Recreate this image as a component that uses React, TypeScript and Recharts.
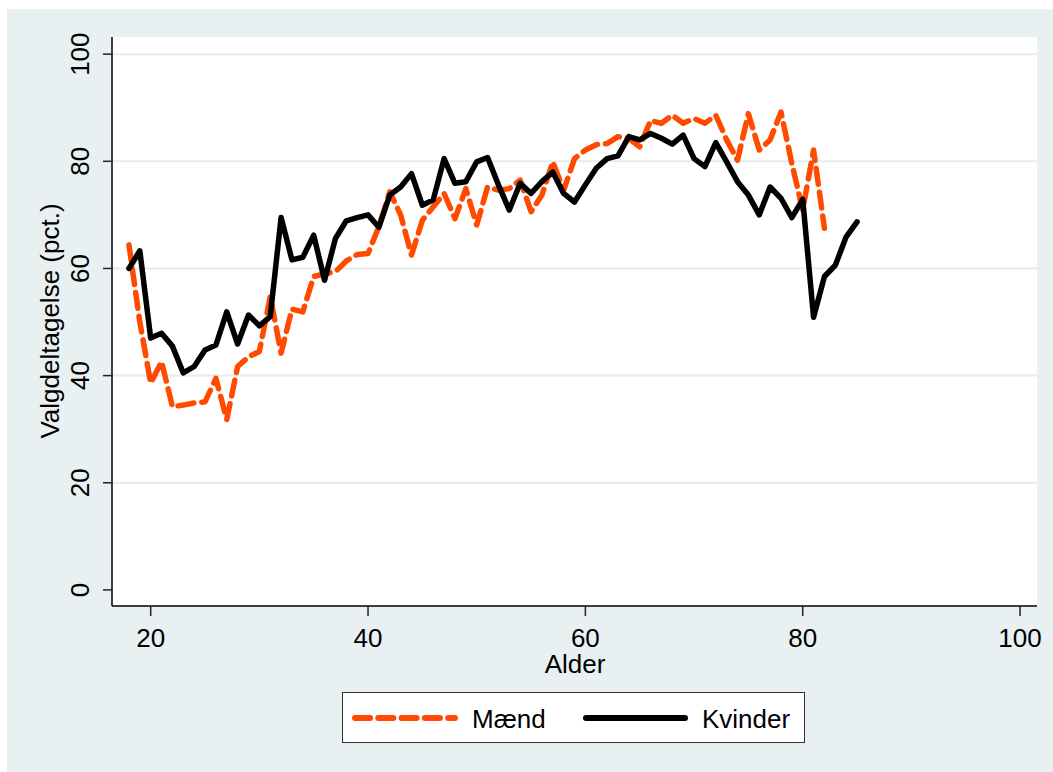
import { LineChart, Line, XAxis, YAxis, CartesianGrid } from 'recharts';

// Alder 18..85
const ages = [
  18, 19, 20, 21, 22, 23, 24, 25, 26, 27, 28, 29, 30, 31, 32, 33, 34, 35, 36, 37,
  38, 39, 40, 41, 42, 43, 44, 45, 46, 47, 48, 49, 50, 51, 52, 53, 54, 55, 56, 57,
  58, 59, 60, 61, 62, 63, 64, 65, 66, 67, 68, 69, 70, 71, 72, 73, 74, 75, 76, 77,
  78, 79, 80, 81, 82, 83, 84, 85,
];

// Mænd, 18..82
const maend = [
  64.4, 50, 38.6, 42.6, 34.2, 34.5, 34.9, 35.1, 39.5, 31.8, 41.7, 43.5, 44.5, 54.7, 44.2, 52.4, 51.9, 58.5, 59.0, 59.4,
  61.4, 62.6, 62.8, 67.8, 74.3, 70, 62.5, 69, 71.5, 74, 69.3, 74.9, 68.1, 75.2, 74.6, 74.9, 76.5, 70.6, 73.7, 79.9,
  74.6, 80.5, 82.1, 83.1, 83.3, 84.6, 84.3, 82.7, 87.6, 87.1, 88.6, 87.1, 88, 87.1, 88.6, 84, 80.2, 88.9, 82.1, 84,
  89.2, 79.6, 70.9, 82.1, 67.5,
];

// Kvinder, 18..85
const kvinder = [
  60, 63.3, 47, 47.9, 45.5, 40.5, 41.7, 44.8, 45.7, 51.9, 45.9, 51.3, 49.3, 51, 69.5, 61.6, 62.1, 66.2, 57.8, 65.6,
  68.9, 69.5, 70, 67.7, 73.7, 75.2, 77.7, 71.8, 72.8, 80.5, 75.9, 76.2, 79.9, 80.7, 75.6, 70.9, 75.9, 74, 76.2, 78,
  74, 72.4, 75.6, 78.7, 80.5, 81, 84.6, 84, 85.2, 84.3, 83.2, 84.9, 80.5, 79, 83.5, 79.9, 76.2, 73.7, 70, 75.2,
  73.1, 69.5, 72.9, 50.9, 58.5, 60.6, 65.9, 68.7,
];

const xTicks = [20, 40, 60, 80, 100];
const yTicks = [0, 20, 40, 60, 80, 100];

const data = ages.map((a, i) => ({ alder: a, m: maend[i], k: kvinder[i] }));

const FONT = '"Liberation Sans", Arial, sans-serif';
const ORANGE = '#ff4a00';
const BG = '#e8f0f2';
const GRID = '#e3ecef';

const XTick = ({ x, payload }: any) => (
  <text x={x} y={647} textAnchor="middle" fontSize={26} fontFamily={FONT} fill="#000">
    {payload.value}
  </text>
);

const YTick = ({ y, payload }: any) => (
  <text x={89} y={y} transform={`rotate(-90, 89, ${y})`} textAnchor="middle" fontSize={26} fontFamily={FONT} fill="#000">
    {payload.value}
  </text>
);

export default function App() {
  return (
    <div style={{ position: 'fixed', left: 0, top: 0, width: 1053, height: 772, background: '#fff' }}>
      <div style={{ position: 'absolute', left: 7, top: 9, right: 0, bottom: 0, background: BG }} />
      <div style={{ position: 'absolute', left: 0, top: 0 }}>
        <LineChart width={1053} height={772} data={data} margin={{ top: 37, right: 16, left: 52, bottom: 136 }}>
          <CartesianGrid fill="#fff" stroke={GRID} strokeWidth={2} vertical={false} horizontalValues={[20, 40, 60, 80, 100]} />
          <XAxis
            dataKey="alder"
            type="number"
            domain={[16.44, 101.56]}
            ticks={xTicks}
            height={30}
            tick={<XTick />}
            tickSize={10}
            tickLine={{ stroke: '#222', strokeWidth: 1.5 }}
            axisLine={{ stroke: '#000', strokeWidth: 1.5 }}
            allowDataOverflow
          />
          <YAxis
            type="number"
            domain={[-3, 103.2]}
            ticks={yTicks}
            width={60}
            tick={<YTick />}
            tickSize={9}
            tickLine={{ stroke: '#222', strokeWidth: 1.5 }}
            axisLine={{ stroke: '#000', strokeWidth: 1.5 }}
            allowDataOverflow
          />
          <Line
            type="linear"
            dataKey="m"
            stroke={ORANGE}
            strokeWidth={5.5}
            strokeDasharray="16 8"
            strokeLinecap="round"
            strokeLinejoin="round"
            dot={false}
            isAnimationActive={false}
          />
          <Line
            type="linear"
            dataKey="k"
            stroke="#000"
            strokeWidth={5.5}
            strokeLinecap="round"
            strokeLinejoin="round"
            dot={false}
            isAnimationActive={false}
          />
        </LineChart>
      </div>
      <svg width={1053} height={772} style={{ position: 'absolute', left: 0, top: 0, pointerEvents: 'none' }}>
        <text x={59} y={321} transform="rotate(-90, 59, 321)" textAnchor="middle" fontSize={26} fontFamily={FONT} fill="#000">
          Valgdeltagelse (pct.)
        </text>
        <text x={575} y={673} textAnchor="middle" fontSize={26} fontFamily={FONT} fill="#000">
          Alder
        </text>
        <rect x={342.5} y={692.5} width={462} height={50} fill="#fff" stroke="#333" strokeWidth={1} />
        <line x1={355} y1={718} x2={455} y2={718} stroke={ORANGE} strokeWidth={6} strokeLinecap="round" strokeDasharray="15 8.3" />
        <text x={472} y={728} fontSize={26} fontFamily={FONT} fill="#000">Mænd</text>
        <line x1={586} y1={718} x2={685} y2={718} stroke="#000" strokeWidth={6} strokeLinecap="round" />
        <text x={702} y={728} fontSize={26} fontFamily={FONT} fill="#000">Kvinder</text>
      </svg>
    </div>
  );
}
